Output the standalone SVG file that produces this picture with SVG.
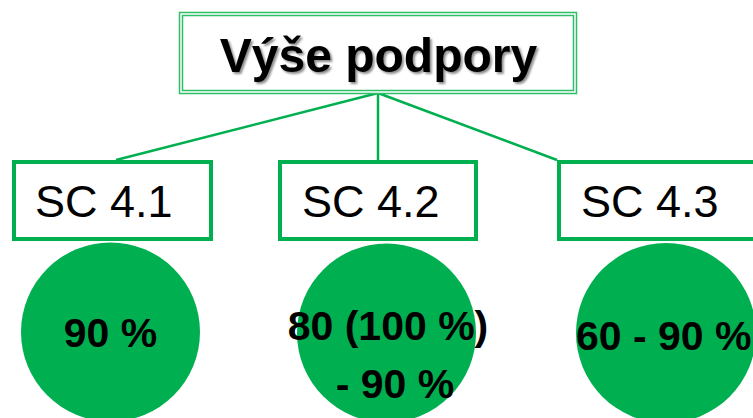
<svg xmlns="http://www.w3.org/2000/svg" width="753" height="418" viewBox="0 0 753 418">
<defs>
<style>
.sc{fill:#fff;stroke:#00b050;stroke-width:4}
.sct{font-family:"Liberation Sans",Arial,sans-serif;font-size:45px;fill:#000}
.circ{fill:#00b050}
.pct{font-family:"Liberation Sans",Arial,sans-serif;font-size:41px;font-weight:bold;fill:#000;text-anchor:middle}
.conn{stroke:#00b050;stroke-width:2.5;fill:none}
.tb{fill:none;stroke:#2dbe68;stroke-width:1.5}
</style>
<filter id="sh" x="-10%" y="-20%" width="120%" height="150%">
<feDropShadow dx="2" dy="2" stdDeviation="1.2" flood-color="#000" flood-opacity="0.45"/>
</filter>
</defs>
<rect width="753" height="418" fill="#fff"/>
<g id="connectors">
<line class="conn" x1="378" y1="93" x2="116" y2="160"/>
<line class="conn" x1="378" y1="93" x2="378" y2="160"/>
<line class="conn" x1="378" y1="93" x2="557" y2="160"/>
</g>
<g id="title">
<rect x="180" y="13" width="397" height="81" fill="#fff"/>
<rect class="tb" x="179.5" y="12.5" width="397" height="81"/>
<rect class="tb" x="182.5" y="15.5" width="391" height="75"/>
<text x="378.5" y="72" text-anchor="middle" font-family="'Liberation Sans',Arial,sans-serif" font-size="48" font-weight="bold" fill="#000" filter="url(#sh)">Výše podpory</text>
</g>
<g id="sc41">
<rect class="sc" x="14" y="162" width="197" height="77"/>
<text class="sct" x="35" y="217">SC 4.1</text>
</g>
<g id="sc42">
<rect class="sc" x="280" y="162" width="196" height="77"/>
<text class="sct" x="302" y="217">SC 4.2</text>
</g>
<g id="sc43">
<rect class="sc" x="559" y="162" width="210" height="77"/>
<text class="sct" x="581" y="217">SC 4.3</text>
</g>
<g id="c1">
<circle class="circ" cx="110.5" cy="332" r="89.5"/>
<text class="pct" x="110.5" y="347">90 %</text>
</g>
<g id="c2">
<circle class="circ" cx="386.5" cy="333" r="89.5"/>
<text class="pct" x="388" y="340">80 (100 %)</text>
<text class="pct" x="395" y="398">- 90 %</text>
</g>
<g id="c3">
<circle class="circ" cx="666" cy="333" r="90"/>
<text class="pct" x="576" y="350" text-anchor="start" style="text-anchor:start">60 - 90 %</text>
</g>
</svg>
